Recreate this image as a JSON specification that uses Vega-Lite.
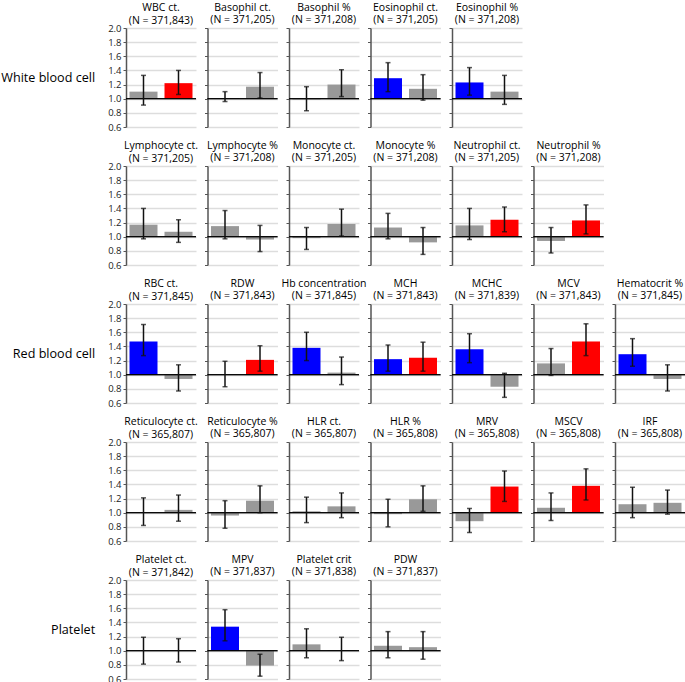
{
"$schema": "https://vega.github.io/schema/vega-lite/v6.json",
"padding": {"left": 0, "top": 2, "right": 0, "bottom": 0},
"columns": 7,
"bounds": "flush",
"spacing": {"row": 39, "column": 11.5},
"concat": [
{"width":70,"height":99,"title":{"text":["WBC ct.","(N = 371,843)"],"offset":-3},"data":{"values":[{"g":"A","v":1.10,"lo":0.91,"hi":1.33,"k":"ns"},{"g":"B","v":1.22,"lo":1.06,"hi":1.40,"k":"second"}]},
 "layer":[
 {"mark":"bar","encoding":{"x":{"field":"g","type":"nominal","axis":null,"scale":{"paddingInner":0.2,"paddingOuter":0.1}},"y":{"field":"v","type":"quantitative","scale":{"domain":[0.6,2]},"axis":{"format":".1f","title":"White blood cell"}},"y2":{"datum":1},"color":{"field":"k","type":"nominal","scale":{"domain":["first","second","ns"],"range":["#0000ff","#ff0000","#999999"]},"legend":null}}},
 {"mark":{"type":"rule","strokeWidth":1,"color":"#000"},"encoding":{"y":{"datum":1}}},
 {"mark":"rule","encoding":{"x":{"field":"g","type":"nominal"},"y":{"field":"lo","type":"quantitative"},"y2":{"field":"hi"}}},
 {"mark":"tick","encoding":{"x":{"field":"g","type":"nominal"},"y":{"field":"lo","type":"quantitative"}}},
 {"mark":"tick","encoding":{"x":{"field":"g","type":"nominal"},"y":{"field":"hi","type":"quantitative"}}}
 ]},
{"width":70,"height":99,"title":{"text":["Basophil ct.","(N = 371,205)"]},"data":{"values":[{"g":"A","v":1.01,"lo":0.96,"hi":1.10,"k":"ns"},{"g":"B","v":1.17,"lo":1.01,"hi":1.37,"k":"ns"}]},
 "layer":[
 {"mark":"bar","encoding":{"x":{"field":"g","type":"nominal","axis":null,"scale":{"paddingInner":0.2,"paddingOuter":0.1}},"y":{"field":"v","type":"quantitative","scale":{"domain":[0.6,2]},"axis":{"labels":false,"title":null}},"y2":{"datum":1},"color":{"field":"k","type":"nominal","scale":{"domain":["first","second","ns"],"range":["#0000ff","#ff0000","#999999"]},"legend":null}}},
 {"mark":{"type":"rule","strokeWidth":1,"color":"#000"},"encoding":{"y":{"datum":1}}},
 {"mark":"rule","encoding":{"x":{"field":"g","type":"nominal"},"y":{"field":"lo","type":"quantitative"},"y2":{"field":"hi"}}},
 {"mark":"tick","encoding":{"x":{"field":"g","type":"nominal"},"y":{"field":"lo","type":"quantitative"}}},
 {"mark":"tick","encoding":{"x":{"field":"g","type":"nominal"},"y":{"field":"hi","type":"quantitative"}}}
 ]},
{"width":70,"height":99,"title":{"text":["Basophil %","(N = 371,208)"]},"data":{"values":[{"g":"A","v":0.99,"lo":0.83,"hi":1.17,"k":"ns"},{"g":"B","v":1.20,"lo":1.03,"hi":1.41,"k":"ns"}]},
 "layer":[
 {"mark":"bar","encoding":{"x":{"field":"g","type":"nominal","axis":null,"scale":{"paddingInner":0.2,"paddingOuter":0.1}},"y":{"field":"v","type":"quantitative","scale":{"domain":[0.6,2]},"axis":{"labels":false,"title":null}},"y2":{"datum":1},"color":{"field":"k","type":"nominal","scale":{"domain":["first","second","ns"],"range":["#0000ff","#ff0000","#999999"]},"legend":null}}},
 {"mark":{"type":"rule","strokeWidth":1,"color":"#000"},"encoding":{"y":{"datum":1}}},
 {"mark":"rule","encoding":{"x":{"field":"g","type":"nominal"},"y":{"field":"lo","type":"quantitative"},"y2":{"field":"hi"}}},
 {"mark":"tick","encoding":{"x":{"field":"g","type":"nominal"},"y":{"field":"lo","type":"quantitative"}}},
 {"mark":"tick","encoding":{"x":{"field":"g","type":"nominal"},"y":{"field":"hi","type":"quantitative"}}}
 ]},
{"width":70,"height":99,"title":{"text":["Eosinophil ct.","(N = 371,205)"]},"data":{"values":[{"g":"A","v":1.29,"lo":1.10,"hi":1.51,"k":"first"},{"g":"B","v":1.14,"lo":0.98,"hi":1.34,"k":"ns"}]},
 "layer":[
 {"mark":"bar","encoding":{"x":{"field":"g","type":"nominal","axis":null,"scale":{"paddingInner":0.2,"paddingOuter":0.1}},"y":{"field":"v","type":"quantitative","scale":{"domain":[0.6,2]},"axis":{"labels":false,"title":null}},"y2":{"datum":1},"color":{"field":"k","type":"nominal","scale":{"domain":["first","second","ns"],"range":["#0000ff","#ff0000","#999999"]},"legend":null}}},
 {"mark":{"type":"rule","strokeWidth":1,"color":"#000"},"encoding":{"y":{"datum":1}}},
 {"mark":"rule","encoding":{"x":{"field":"g","type":"nominal"},"y":{"field":"lo","type":"quantitative"},"y2":{"field":"hi"}}},
 {"mark":"tick","encoding":{"x":{"field":"g","type":"nominal"},"y":{"field":"lo","type":"quantitative"}}},
 {"mark":"tick","encoding":{"x":{"field":"g","type":"nominal"},"y":{"field":"hi","type":"quantitative"}}}
 ]},
{"width":70,"height":99,"title":{"text":["Eosinophil %","(N = 371,208)"]},"data":{"values":[{"g":"A","v":1.23,"lo":1.05,"hi":1.44,"k":"first"},{"g":"B","v":1.10,"lo":0.92,"hi":1.33,"k":"ns"}]},
 "layer":[
 {"mark":"bar","encoding":{"x":{"field":"g","type":"nominal","axis":null,"scale":{"paddingInner":0.2,"paddingOuter":0.1}},"y":{"field":"v","type":"quantitative","scale":{"domain":[0.6,2]},"axis":{"labels":false,"title":null}},"y2":{"datum":1},"color":{"field":"k","type":"nominal","scale":{"domain":["first","second","ns"],"range":["#0000ff","#ff0000","#999999"]},"legend":null}}},
 {"mark":{"type":"rule","strokeWidth":1,"color":"#000"},"encoding":{"y":{"datum":1}}},
 {"mark":"rule","encoding":{"x":{"field":"g","type":"nominal"},"y":{"field":"lo","type":"quantitative"},"y2":{"field":"hi"}}},
 {"mark":"tick","encoding":{"x":{"field":"g","type":"nominal"},"y":{"field":"lo","type":"quantitative"}}},
 {"mark":"tick","encoding":{"x":{"field":"g","type":"nominal"},"y":{"field":"hi","type":"quantitative"}}}
 ]},
{"width":70,"height":99,"data":{"values":[{"k":"blank"}]},"mark":{"type":"point","opacity":0},"encoding":{}},
{"width":70,"height":99,"data":{"values":[{"k":"blank"}]},"mark":{"type":"point","opacity":0},"encoding":{}},

{"width":70,"height":99,"title":{"text":["Lymphocyte ct.","(N = 371,205)"],"offset":-3},"data":{"values":[{"g":"A","v":1.17,"lo":0.97,"hi":1.40,"k":"ns"},{"g":"B","v":1.07,"lo":0.92,"hi":1.24,"k":"ns"}]},
 "layer":[
 {"mark":"bar","encoding":{"x":{"field":"g","type":"nominal","axis":null,"scale":{"paddingInner":0.2,"paddingOuter":0.1}},"y":{"field":"v","type":"quantitative","scale":{"domain":[0.6,2]},"axis":{"format":".1f","title":null}},"y2":{"datum":1},"color":{"field":"k","type":"nominal","scale":{"domain":["first","second","ns"],"range":["#0000ff","#ff0000","#999999"]},"legend":null}}},
 {"mark":{"type":"rule","strokeWidth":1,"color":"#000"},"encoding":{"y":{"datum":1}}},
 {"mark":"rule","encoding":{"x":{"field":"g","type":"nominal"},"y":{"field":"lo","type":"quantitative"},"y2":{"field":"hi"}}},
 {"mark":"tick","encoding":{"x":{"field":"g","type":"nominal"},"y":{"field":"lo","type":"quantitative"}}},
 {"mark":"tick","encoding":{"x":{"field":"g","type":"nominal"},"y":{"field":"hi","type":"quantitative"}}}
 ]},
{"width":70,"height":99,"title":{"text":["Lymphocyte %","(N = 371,208)"]},"data":{"values":[{"g":"A","v":1.15,"lo":0.97,"hi":1.37,"k":"ns"},{"g":"B","v":0.96,"lo":0.79,"hi":1.16,"k":"ns"}]},
 "layer":[
 {"mark":"bar","encoding":{"x":{"field":"g","type":"nominal","axis":null,"scale":{"paddingInner":0.2,"paddingOuter":0.1}},"y":{"field":"v","type":"quantitative","scale":{"domain":[0.6,2]},"axis":{"labels":false,"title":null}},"y2":{"datum":1},"color":{"field":"k","type":"nominal","scale":{"domain":["first","second","ns"],"range":["#0000ff","#ff0000","#999999"]},"legend":null}}},
 {"mark":{"type":"rule","strokeWidth":1,"color":"#000"},"encoding":{"y":{"datum":1}}},
 {"mark":"rule","encoding":{"x":{"field":"g","type":"nominal"},"y":{"field":"lo","type":"quantitative"},"y2":{"field":"hi"}}},
 {"mark":"tick","encoding":{"x":{"field":"g","type":"nominal"},"y":{"field":"lo","type":"quantitative"}}},
 {"mark":"tick","encoding":{"x":{"field":"g","type":"nominal"},"y":{"field":"hi","type":"quantitative"}}}
 ]},
{"width":70,"height":99,"title":{"text":["Monocyte ct.","(N = 371,205)"]},"data":{"values":[{"g":"A","v":0.98,"lo":0.82,"hi":1.13,"k":"ns"},{"g":"B","v":1.18,"lo":1.01,"hi":1.39,"k":"ns"}]},
 "layer":[
 {"mark":"bar","encoding":{"x":{"field":"g","type":"nominal","axis":null,"scale":{"paddingInner":0.2,"paddingOuter":0.1}},"y":{"field":"v","type":"quantitative","scale":{"domain":[0.6,2]},"axis":{"labels":false,"title":null}},"y2":{"datum":1},"color":{"field":"k","type":"nominal","scale":{"domain":["first","second","ns"],"range":["#0000ff","#ff0000","#999999"]},"legend":null}}},
 {"mark":{"type":"rule","strokeWidth":1,"color":"#000"},"encoding":{"y":{"datum":1}}},
 {"mark":"rule","encoding":{"x":{"field":"g","type":"nominal"},"y":{"field":"lo","type":"quantitative"},"y2":{"field":"hi"}}},
 {"mark":"tick","encoding":{"x":{"field":"g","type":"nominal"},"y":{"field":"lo","type":"quantitative"}}},
 {"mark":"tick","encoding":{"x":{"field":"g","type":"nominal"},"y":{"field":"hi","type":"quantitative"}}}
 ]},
{"width":70,"height":99,"title":{"text":["Monocyte %","(N = 371,208)"]},"data":{"values":[{"g":"A","v":1.13,"lo":0.97,"hi":1.33,"k":"ns"},{"g":"B","v":0.92,"lo":0.75,"hi":1.13,"k":"ns"}]},
 "layer":[
 {"mark":"bar","encoding":{"x":{"field":"g","type":"nominal","axis":null,"scale":{"paddingInner":0.2,"paddingOuter":0.1}},"y":{"field":"v","type":"quantitative","scale":{"domain":[0.6,2]},"axis":{"labels":false,"title":null}},"y2":{"datum":1},"color":{"field":"k","type":"nominal","scale":{"domain":["first","second","ns"],"range":["#0000ff","#ff0000","#999999"]},"legend":null}}},
 {"mark":{"type":"rule","strokeWidth":1,"color":"#000"},"encoding":{"y":{"datum":1}}},
 {"mark":"rule","encoding":{"x":{"field":"g","type":"nominal"},"y":{"field":"lo","type":"quantitative"},"y2":{"field":"hi"}}},
 {"mark":"tick","encoding":{"x":{"field":"g","type":"nominal"},"y":{"field":"lo","type":"quantitative"}}},
 {"mark":"tick","encoding":{"x":{"field":"g","type":"nominal"},"y":{"field":"hi","type":"quantitative"}}}
 ]},
{"width":70,"height":99,"title":{"text":["Neutrophil ct.","(N = 371,205)"]},"data":{"values":[{"g":"A","v":1.16,"lo":0.96,"hi":1.40,"k":"ns"},{"g":"B","v":1.24,"lo":1.07,"hi":1.42,"k":"second"}]},
 "layer":[
 {"mark":"bar","encoding":{"x":{"field":"g","type":"nominal","axis":null,"scale":{"paddingInner":0.2,"paddingOuter":0.1}},"y":{"field":"v","type":"quantitative","scale":{"domain":[0.6,2]},"axis":{"labels":false,"title":null}},"y2":{"datum":1},"color":{"field":"k","type":"nominal","scale":{"domain":["first","second","ns"],"range":["#0000ff","#ff0000","#999999"]},"legend":null}}},
 {"mark":{"type":"rule","strokeWidth":1,"color":"#000"},"encoding":{"y":{"datum":1}}},
 {"mark":"rule","encoding":{"x":{"field":"g","type":"nominal"},"y":{"field":"lo","type":"quantitative"},"y2":{"field":"hi"}}},
 {"mark":"tick","encoding":{"x":{"field":"g","type":"nominal"},"y":{"field":"lo","type":"quantitative"}}},
 {"mark":"tick","encoding":{"x":{"field":"g","type":"nominal"},"y":{"field":"hi","type":"quantitative"}}}
 ]},
{"width":70,"height":99,"title":{"text":["Neutrophil %","(N = 371,208)"]},"data":{"values":[{"g":"A","v":0.94,"lo":0.77,"hi":1.13,"k":"ns"},{"g":"B","v":1.23,"lo":1.04,"hi":1.45,"k":"second"}]},
 "layer":[
 {"mark":"bar","encoding":{"x":{"field":"g","type":"nominal","axis":null,"scale":{"paddingInner":0.2,"paddingOuter":0.1}},"y":{"field":"v","type":"quantitative","scale":{"domain":[0.6,2]},"axis":{"labels":false,"title":null}},"y2":{"datum":1},"color":{"field":"k","type":"nominal","scale":{"domain":["first","second","ns"],"range":["#0000ff","#ff0000","#999999"]},"legend":null}}},
 {"mark":{"type":"rule","strokeWidth":1,"color":"#000"},"encoding":{"y":{"datum":1}}},
 {"mark":"rule","encoding":{"x":{"field":"g","type":"nominal"},"y":{"field":"lo","type":"quantitative"},"y2":{"field":"hi"}}},
 {"mark":"tick","encoding":{"x":{"field":"g","type":"nominal"},"y":{"field":"lo","type":"quantitative"}}},
 {"mark":"tick","encoding":{"x":{"field":"g","type":"nominal"},"y":{"field":"hi","type":"quantitative"}}}
 ]},
{"width":70,"height":99,"data":{"values":[{"k":"blank"}]},"mark":{"type":"point","opacity":0},"encoding":{}},

{"width":70,"height":99,"title":{"text":["RBC ct.","(N = 371,845)"],"offset":-3},"data":{"values":[{"g":"A","v":1.47,"lo":1.27,"hi":1.71,"k":"first"},{"g":"B","v":0.94,"lo":0.77,"hi":1.14,"k":"ns"}]},
 "layer":[
 {"mark":"bar","encoding":{"x":{"field":"g","type":"nominal","axis":null,"scale":{"paddingInner":0.2,"paddingOuter":0.1}},"y":{"field":"v","type":"quantitative","scale":{"domain":[0.6,2]},"axis":{"format":".1f","title":"Red blood cell"}},"y2":{"datum":1},"color":{"field":"k","type":"nominal","scale":{"domain":["first","second","ns"],"range":["#0000ff","#ff0000","#999999"]},"legend":null}}},
 {"mark":{"type":"rule","strokeWidth":1,"color":"#000"},"encoding":{"y":{"datum":1}}},
 {"mark":"rule","encoding":{"x":{"field":"g","type":"nominal"},"y":{"field":"lo","type":"quantitative"},"y2":{"field":"hi"}}},
 {"mark":"tick","encoding":{"x":{"field":"g","type":"nominal"},"y":{"field":"lo","type":"quantitative"}}},
 {"mark":"tick","encoding":{"x":{"field":"g","type":"nominal"},"y":{"field":"hi","type":"quantitative"}}}
 ]},
{"width":70,"height":99,"title":{"text":["RDW","(N = 371,843)"]},"data":{"values":[{"g":"A","v":1.00,"lo":0.83,"hi":1.19,"k":"ns"},{"g":"B","v":1.21,"lo":1.05,"hi":1.41,"k":"second"}]},
 "layer":[
 {"mark":"bar","encoding":{"x":{"field":"g","type":"nominal","axis":null,"scale":{"paddingInner":0.2,"paddingOuter":0.1}},"y":{"field":"v","type":"quantitative","scale":{"domain":[0.6,2]},"axis":{"labels":false,"title":null}},"y2":{"datum":1},"color":{"field":"k","type":"nominal","scale":{"domain":["first","second","ns"],"range":["#0000ff","#ff0000","#999999"]},"legend":null}}},
 {"mark":{"type":"rule","strokeWidth":1,"color":"#000"},"encoding":{"y":{"datum":1}}},
 {"mark":"rule","encoding":{"x":{"field":"g","type":"nominal"},"y":{"field":"lo","type":"quantitative"},"y2":{"field":"hi"}}},
 {"mark":"tick","encoding":{"x":{"field":"g","type":"nominal"},"y":{"field":"lo","type":"quantitative"}}},
 {"mark":"tick","encoding":{"x":{"field":"g","type":"nominal"},"y":{"field":"hi","type":"quantitative"}}}
 ]},
{"width":70,"height":99,"title":{"text":["Hb concentration","(N = 371,845)"]},"data":{"values":[{"g":"A","v":1.38,"lo":1.20,"hi":1.60,"k":"first"},{"g":"B","v":1.03,"lo":0.86,"hi":1.25,"k":"ns"}]},
 "layer":[
 {"mark":"bar","encoding":{"x":{"field":"g","type":"nominal","axis":null,"scale":{"paddingInner":0.2,"paddingOuter":0.1}},"y":{"field":"v","type":"quantitative","scale":{"domain":[0.6,2]},"axis":{"labels":false,"title":null}},"y2":{"datum":1},"color":{"field":"k","type":"nominal","scale":{"domain":["first","second","ns"],"range":["#0000ff","#ff0000","#999999"]},"legend":null}}},
 {"mark":{"type":"rule","strokeWidth":1,"color":"#000"},"encoding":{"y":{"datum":1}}},
 {"mark":"rule","encoding":{"x":{"field":"g","type":"nominal"},"y":{"field":"lo","type":"quantitative"},"y2":{"field":"hi"}}},
 {"mark":"tick","encoding":{"x":{"field":"g","type":"nominal"},"y":{"field":"lo","type":"quantitative"}}},
 {"mark":"tick","encoding":{"x":{"field":"g","type":"nominal"},"y":{"field":"hi","type":"quantitative"}}}
 ]},
{"width":70,"height":99,"title":{"text":["MCH","(N = 371,843)"]},"data":{"values":[{"g":"A","v":1.22,"lo":1.05,"hi":1.42,"k":"first"},{"g":"B","v":1.24,"lo":1.05,"hi":1.46,"k":"second"}]},
 "layer":[
 {"mark":"bar","encoding":{"x":{"field":"g","type":"nominal","axis":null,"scale":{"paddingInner":0.2,"paddingOuter":0.1}},"y":{"field":"v","type":"quantitative","scale":{"domain":[0.6,2]},"axis":{"labels":false,"title":null}},"y2":{"datum":1},"color":{"field":"k","type":"nominal","scale":{"domain":["first","second","ns"],"range":["#0000ff","#ff0000","#999999"]},"legend":null}}},
 {"mark":{"type":"rule","strokeWidth":1,"color":"#000"},"encoding":{"y":{"datum":1}}},
 {"mark":"rule","encoding":{"x":{"field":"g","type":"nominal"},"y":{"field":"lo","type":"quantitative"},"y2":{"field":"hi"}}},
 {"mark":"tick","encoding":{"x":{"field":"g","type":"nominal"},"y":{"field":"lo","type":"quantitative"}}},
 {"mark":"tick","encoding":{"x":{"field":"g","type":"nominal"},"y":{"field":"hi","type":"quantitative"}}}
 ]},
{"width":70,"height":99,"title":{"text":["MCHC","(N = 371,839)"]},"data":{"values":[{"g":"A","v":1.36,"lo":1.17,"hi":1.58,"k":"first"},{"g":"B","v":0.83,"lo":0.68,"hi":1.02,"k":"ns"}]},
 "layer":[
 {"mark":"bar","encoding":{"x":{"field":"g","type":"nominal","axis":null,"scale":{"paddingInner":0.2,"paddingOuter":0.1}},"y":{"field":"v","type":"quantitative","scale":{"domain":[0.6,2]},"axis":{"labels":false,"title":null}},"y2":{"datum":1},"color":{"field":"k","type":"nominal","scale":{"domain":["first","second","ns"],"range":["#0000ff","#ff0000","#999999"]},"legend":null}}},
 {"mark":{"type":"rule","strokeWidth":1,"color":"#000"},"encoding":{"y":{"datum":1}}},
 {"mark":"rule","encoding":{"x":{"field":"g","type":"nominal"},"y":{"field":"lo","type":"quantitative"},"y2":{"field":"hi"}}},
 {"mark":"tick","encoding":{"x":{"field":"g","type":"nominal"},"y":{"field":"lo","type":"quantitative"}}},
 {"mark":"tick","encoding":{"x":{"field":"g","type":"nominal"},"y":{"field":"hi","type":"quantitative"}}}
 ]},
{"width":70,"height":99,"title":{"text":["MCV","(N = 371,843)"]},"data":{"values":[{"g":"A","v":1.16,"lo":0.99,"hi":1.37,"k":"ns"},{"g":"B","v":1.47,"lo":1.27,"hi":1.72,"k":"second"}]},
 "layer":[
 {"mark":"bar","encoding":{"x":{"field":"g","type":"nominal","axis":null,"scale":{"paddingInner":0.2,"paddingOuter":0.1}},"y":{"field":"v","type":"quantitative","scale":{"domain":[0.6,2]},"axis":{"labels":false,"title":null}},"y2":{"datum":1},"color":{"field":"k","type":"nominal","scale":{"domain":["first","second","ns"],"range":["#0000ff","#ff0000","#999999"]},"legend":null}}},
 {"mark":{"type":"rule","strokeWidth":1,"color":"#000"},"encoding":{"y":{"datum":1}}},
 {"mark":"rule","encoding":{"x":{"field":"g","type":"nominal"},"y":{"field":"lo","type":"quantitative"},"y2":{"field":"hi"}}},
 {"mark":"tick","encoding":{"x":{"field":"g","type":"nominal"},"y":{"field":"lo","type":"quantitative"}}},
 {"mark":"tick","encoding":{"x":{"field":"g","type":"nominal"},"y":{"field":"hi","type":"quantitative"}}}
 ]},
{"width":70,"height":99,"title":{"text":["Hematocrit %","(N = 371,845)"]},"data":{"values":[{"g":"A","v":1.29,"lo":1.12,"hi":1.51,"k":"first"},{"g":"B","v":0.94,"lo":0.77,"hi":1.14,"k":"ns"}]},
 "layer":[
 {"mark":"bar","encoding":{"x":{"field":"g","type":"nominal","axis":null,"scale":{"paddingInner":0.2,"paddingOuter":0.1}},"y":{"field":"v","type":"quantitative","scale":{"domain":[0.6,2]},"axis":{"labels":false,"title":null}},"y2":{"datum":1},"color":{"field":"k","type":"nominal","scale":{"domain":["first","second","ns"],"range":["#0000ff","#ff0000","#999999"]},"legend":null}}},
 {"mark":{"type":"rule","strokeWidth":1,"color":"#000"},"encoding":{"y":{"datum":1}}},
 {"mark":"rule","encoding":{"x":{"field":"g","type":"nominal"},"y":{"field":"lo","type":"quantitative"},"y2":{"field":"hi"}}},
 {"mark":"tick","encoding":{"x":{"field":"g","type":"nominal"},"y":{"field":"lo","type":"quantitative"}}},
 {"mark":"tick","encoding":{"x":{"field":"g","type":"nominal"},"y":{"field":"hi","type":"quantitative"}}}
 ]},

{"width":70,"height":99,"title":{"text":["Reticulocyte ct.","(N = 365,807)"],"offset":-3},"data":{"values":[{"g":"A","v":1.00,"lo":0.82,"hi":1.21,"k":"ns"},{"g":"B","v":1.04,"lo":0.88,"hi":1.25,"k":"ns"}]},
 "layer":[
 {"mark":"bar","encoding":{"x":{"field":"g","type":"nominal","axis":null,"scale":{"paddingInner":0.2,"paddingOuter":0.1}},"y":{"field":"v","type":"quantitative","scale":{"domain":[0.6,2]},"axis":{"format":".1f","title":null}},"y2":{"datum":1},"color":{"field":"k","type":"nominal","scale":{"domain":["first","second","ns"],"range":["#0000ff","#ff0000","#999999"]},"legend":null}}},
 {"mark":{"type":"rule","strokeWidth":1,"color":"#000"},"encoding":{"y":{"datum":1}}},
 {"mark":"rule","encoding":{"x":{"field":"g","type":"nominal"},"y":{"field":"lo","type":"quantitative"},"y2":{"field":"hi"}}},
 {"mark":"tick","encoding":{"x":{"field":"g","type":"nominal"},"y":{"field":"lo","type":"quantitative"}}},
 {"mark":"tick","encoding":{"x":{"field":"g","type":"nominal"},"y":{"field":"hi","type":"quantitative"}}}
 ]},
{"width":70,"height":99,"title":{"text":["Reticulocyte %","(N = 365,807)"]},"data":{"values":[{"g":"A","v":0.96,"lo":0.78,"hi":1.17,"k":"ns"},{"g":"B","v":1.17,"lo":1.00,"hi":1.38,"k":"ns"}]},
 "layer":[
 {"mark":"bar","encoding":{"x":{"field":"g","type":"nominal","axis":null,"scale":{"paddingInner":0.2,"paddingOuter":0.1}},"y":{"field":"v","type":"quantitative","scale":{"domain":[0.6,2]},"axis":{"labels":false,"title":null}},"y2":{"datum":1},"color":{"field":"k","type":"nominal","scale":{"domain":["first","second","ns"],"range":["#0000ff","#ff0000","#999999"]},"legend":null}}},
 {"mark":{"type":"rule","strokeWidth":1,"color":"#000"},"encoding":{"y":{"datum":1}}},
 {"mark":"rule","encoding":{"x":{"field":"g","type":"nominal"},"y":{"field":"lo","type":"quantitative"},"y2":{"field":"hi"}}},
 {"mark":"tick","encoding":{"x":{"field":"g","type":"nominal"},"y":{"field":"lo","type":"quantitative"}}},
 {"mark":"tick","encoding":{"x":{"field":"g","type":"nominal"},"y":{"field":"hi","type":"quantitative"}}}
 ]},
{"width":70,"height":99,"title":{"text":["HLR ct.","(N = 365,807)"]},"data":{"values":[{"g":"A","v":1.02,"lo":0.86,"hi":1.22,"k":"ns"},{"g":"B","v":1.09,"lo":0.93,"hi":1.28,"k":"ns"}]},
 "layer":[
 {"mark":"bar","encoding":{"x":{"field":"g","type":"nominal","axis":null,"scale":{"paddingInner":0.2,"paddingOuter":0.1}},"y":{"field":"v","type":"quantitative","scale":{"domain":[0.6,2]},"axis":{"labels":false,"title":null}},"y2":{"datum":1},"color":{"field":"k","type":"nominal","scale":{"domain":["first","second","ns"],"range":["#0000ff","#ff0000","#999999"]},"legend":null}}},
 {"mark":{"type":"rule","strokeWidth":1,"color":"#000"},"encoding":{"y":{"datum":1}}},
 {"mark":"rule","encoding":{"x":{"field":"g","type":"nominal"},"y":{"field":"lo","type":"quantitative"},"y2":{"field":"hi"}}},
 {"mark":"tick","encoding":{"x":{"field":"g","type":"nominal"},"y":{"field":"lo","type":"quantitative"}}},
 {"mark":"tick","encoding":{"x":{"field":"g","type":"nominal"},"y":{"field":"hi","type":"quantitative"}}}
 ]},
{"width":70,"height":99,"title":{"text":["HLR %","(N = 365,808)"]},"data":{"values":[{"g":"A","v":0.98,"lo":0.80,"hi":1.19,"k":"ns"},{"g":"B","v":1.19,"lo":1.02,"hi":1.38,"k":"ns"}]},
 "layer":[
 {"mark":"bar","encoding":{"x":{"field":"g","type":"nominal","axis":null,"scale":{"paddingInner":0.2,"paddingOuter":0.1}},"y":{"field":"v","type":"quantitative","scale":{"domain":[0.6,2]},"axis":{"labels":false,"title":null}},"y2":{"datum":1},"color":{"field":"k","type":"nominal","scale":{"domain":["first","second","ns"],"range":["#0000ff","#ff0000","#999999"]},"legend":null}}},
 {"mark":{"type":"rule","strokeWidth":1,"color":"#000"},"encoding":{"y":{"datum":1}}},
 {"mark":"rule","encoding":{"x":{"field":"g","type":"nominal"},"y":{"field":"lo","type":"quantitative"},"y2":{"field":"hi"}}},
 {"mark":"tick","encoding":{"x":{"field":"g","type":"nominal"},"y":{"field":"lo","type":"quantitative"}}},
 {"mark":"tick","encoding":{"x":{"field":"g","type":"nominal"},"y":{"field":"hi","type":"quantitative"}}}
 ]},
{"width":70,"height":99,"title":{"text":["MRV","(N = 365,808)"]},"data":{"values":[{"g":"A","v":0.88,"lo":0.72,"hi":1.06,"k":"ns"},{"g":"B","v":1.37,"lo":1.16,"hi":1.59,"k":"second"}]},
 "layer":[
 {"mark":"bar","encoding":{"x":{"field":"g","type":"nominal","axis":null,"scale":{"paddingInner":0.2,"paddingOuter":0.1}},"y":{"field":"v","type":"quantitative","scale":{"domain":[0.6,2]},"axis":{"labels":false,"title":null}},"y2":{"datum":1},"color":{"field":"k","type":"nominal","scale":{"domain":["first","second","ns"],"range":["#0000ff","#ff0000","#999999"]},"legend":null}}},
 {"mark":{"type":"rule","strokeWidth":1,"color":"#000"},"encoding":{"y":{"datum":1}}},
 {"mark":"rule","encoding":{"x":{"field":"g","type":"nominal"},"y":{"field":"lo","type":"quantitative"},"y2":{"field":"hi"}}},
 {"mark":"tick","encoding":{"x":{"field":"g","type":"nominal"},"y":{"field":"lo","type":"quantitative"}}},
 {"mark":"tick","encoding":{"x":{"field":"g","type":"nominal"},"y":{"field":"hi","type":"quantitative"}}}
 ]},
{"width":70,"height":99,"title":{"text":["MSCV","(N = 365,808)"]},"data":{"values":[{"g":"A","v":1.07,"lo":0.89,"hi":1.28,"k":"ns"},{"g":"B","v":1.38,"lo":1.18,"hi":1.62,"k":"second"}]},
 "layer":[
 {"mark":"bar","encoding":{"x":{"field":"g","type":"nominal","axis":null,"scale":{"paddingInner":0.2,"paddingOuter":0.1}},"y":{"field":"v","type":"quantitative","scale":{"domain":[0.6,2]},"axis":{"labels":false,"title":null}},"y2":{"datum":1},"color":{"field":"k","type":"nominal","scale":{"domain":["first","second","ns"],"range":["#0000ff","#ff0000","#999999"]},"legend":null}}},
 {"mark":{"type":"rule","strokeWidth":1,"color":"#000"},"encoding":{"y":{"datum":1}}},
 {"mark":"rule","encoding":{"x":{"field":"g","type":"nominal"},"y":{"field":"lo","type":"quantitative"},"y2":{"field":"hi"}}},
 {"mark":"tick","encoding":{"x":{"field":"g","type":"nominal"},"y":{"field":"lo","type":"quantitative"}}},
 {"mark":"tick","encoding":{"x":{"field":"g","type":"nominal"},"y":{"field":"hi","type":"quantitative"}}}
 ]},
{"width":70,"height":99,"title":{"text":["IRF","(N = 365,808)"]},"data":{"values":[{"g":"A","v":1.12,"lo":0.93,"hi":1.36,"k":"ns"},{"g":"B","v":1.14,"lo":0.98,"hi":1.32,"k":"ns"}]},
 "layer":[
 {"mark":"bar","encoding":{"x":{"field":"g","type":"nominal","axis":null,"scale":{"paddingInner":0.2,"paddingOuter":0.1}},"y":{"field":"v","type":"quantitative","scale":{"domain":[0.6,2]},"axis":{"labels":false,"title":null}},"y2":{"datum":1},"color":{"field":"k","type":"nominal","scale":{"domain":["first","second","ns"],"range":["#0000ff","#ff0000","#999999"]},"legend":null}}},
 {"mark":{"type":"rule","strokeWidth":1,"color":"#000"},"encoding":{"y":{"datum":1}}},
 {"mark":"rule","encoding":{"x":{"field":"g","type":"nominal"},"y":{"field":"lo","type":"quantitative"},"y2":{"field":"hi"}}},
 {"mark":"tick","encoding":{"x":{"field":"g","type":"nominal"},"y":{"field":"lo","type":"quantitative"}}},
 {"mark":"tick","encoding":{"x":{"field":"g","type":"nominal"},"y":{"field":"hi","type":"quantitative"}}}
 ]},

{"width":70,"height":99,"title":{"text":["Platelet ct.","(N = 371,842)"],"offset":-3},"data":{"values":[{"g":"A","v":1.00,"lo":0.81,"hi":1.19,"k":"ns"},{"g":"B","v":1.00,"lo":0.84,"hi":1.17,"k":"ns"}]},
 "layer":[
 {"mark":"bar","encoding":{"x":{"field":"g","type":"nominal","axis":null,"scale":{"paddingInner":0.2,"paddingOuter":0.1}},"y":{"field":"v","type":"quantitative","scale":{"domain":[0.6,2]},"axis":{"format":".1f","title":"Platelet"}},"y2":{"datum":1},"color":{"field":"k","type":"nominal","scale":{"domain":["first","second","ns"],"range":["#0000ff","#ff0000","#999999"]},"legend":null}}},
 {"mark":{"type":"rule","strokeWidth":1,"color":"#000"},"encoding":{"y":{"datum":1}}},
 {"mark":"rule","encoding":{"x":{"field":"g","type":"nominal"},"y":{"field":"lo","type":"quantitative"},"y2":{"field":"hi"}}},
 {"mark":"tick","encoding":{"x":{"field":"g","type":"nominal"},"y":{"field":"lo","type":"quantitative"}}},
 {"mark":"tick","encoding":{"x":{"field":"g","type":"nominal"},"y":{"field":"hi","type":"quantitative"}}}
 ]},
{"width":70,"height":99,"title":{"text":["MPV","(N = 371,837)"]},"data":{"values":[{"g":"A","v":1.34,"lo":1.14,"hi":1.58,"k":"first"},{"g":"B","v":0.79,"lo":0.64,"hi":0.95,"k":"ns"}]},
 "layer":[
 {"mark":"bar","encoding":{"x":{"field":"g","type":"nominal","axis":null,"scale":{"paddingInner":0.2,"paddingOuter":0.1}},"y":{"field":"v","type":"quantitative","scale":{"domain":[0.6,2]},"axis":{"labels":false,"title":null}},"y2":{"datum":1},"color":{"field":"k","type":"nominal","scale":{"domain":["first","second","ns"],"range":["#0000ff","#ff0000","#999999"]},"legend":null}}},
 {"mark":{"type":"rule","strokeWidth":1,"color":"#000"},"encoding":{"y":{"datum":1}}},
 {"mark":"rule","encoding":{"x":{"field":"g","type":"nominal"},"y":{"field":"lo","type":"quantitative"},"y2":{"field":"hi"}}},
 {"mark":"tick","encoding":{"x":{"field":"g","type":"nominal"},"y":{"field":"lo","type":"quantitative"}}},
 {"mark":"tick","encoding":{"x":{"field":"g","type":"nominal"},"y":{"field":"hi","type":"quantitative"}}}
 ]},
{"width":70,"height":99,"title":{"text":["Platelet crit","(N = 371,838)"]},"data":{"values":[{"g":"A","v":1.09,"lo":0.90,"hi":1.31,"k":"ns"},{"g":"B","v":1.01,"lo":0.86,"hi":1.19,"k":"ns"}]},
 "layer":[
 {"mark":"bar","encoding":{"x":{"field":"g","type":"nominal","axis":null,"scale":{"paddingInner":0.2,"paddingOuter":0.1}},"y":{"field":"v","type":"quantitative","scale":{"domain":[0.6,2]},"axis":{"labels":false,"title":null}},"y2":{"datum":1},"color":{"field":"k","type":"nominal","scale":{"domain":["first","second","ns"],"range":["#0000ff","#ff0000","#999999"]},"legend":null}}},
 {"mark":{"type":"rule","strokeWidth":1,"color":"#000"},"encoding":{"y":{"datum":1}}},
 {"mark":"rule","encoding":{"x":{"field":"g","type":"nominal"},"y":{"field":"lo","type":"quantitative"},"y2":{"field":"hi"}}},
 {"mark":"tick","encoding":{"x":{"field":"g","type":"nominal"},"y":{"field":"lo","type":"quantitative"}}},
 {"mark":"tick","encoding":{"x":{"field":"g","type":"nominal"},"y":{"field":"hi","type":"quantitative"}}}
 ]},
{"width":70,"height":99,"title":{"text":["PDW","(N = 371,837)"]},"data":{"values":[{"g":"A","v":1.07,"lo":0.90,"hi":1.27,"k":"ns"},{"g":"B","v":1.05,"lo":0.88,"hi":1.27,"k":"ns"}]},
 "layer":[
 {"mark":"bar","encoding":{"x":{"field":"g","type":"nominal","axis":null,"scale":{"paddingInner":0.2,"paddingOuter":0.1}},"y":{"field":"v","type":"quantitative","scale":{"domain":[0.6,2]},"axis":{"labels":false,"title":null}},"y2":{"datum":1},"color":{"field":"k","type":"nominal","scale":{"domain":["first","second","ns"],"range":["#0000ff","#ff0000","#999999"]},"legend":null}}},
 {"mark":{"type":"rule","strokeWidth":1,"color":"#000"},"encoding":{"y":{"datum":1}}},
 {"mark":"rule","encoding":{"x":{"field":"g","type":"nominal"},"y":{"field":"lo","type":"quantitative"},"y2":{"field":"hi"}}},
 {"mark":"tick","encoding":{"x":{"field":"g","type":"nominal"},"y":{"field":"lo","type":"quantitative"}}},
 {"mark":"tick","encoding":{"x":{"field":"g","type":"nominal"},"y":{"field":"hi","type":"quantitative"}}}
 ]}
],
"config": {
 "font": "Open Sans",
 "view": {"stroke": null},
 "title": {"fontSize": 10.5, "fontWeight": "normal", "color": "#000", "lineHeight": 12.5, "offset": 2, "anchor": "middle", "frame": "group"},
 "axisY": {"grid": true, "gridColor": "#dddddd", "gridWidth": 1.5, "domainColor": "#555555", "domainWidth": 1.5, "tickColor": "#555555", "tickSize": 3, "tickWidth": 1, "tickCount": 7, "labelFontSize": 9.5, "labelColor": "#222222", "labelPadding": 2, "titleFontSize": 12.6, "titleFontWeight": "normal", "titleColor": "#000", "titleAngle": 0, "titleAlign": "right", "titleBaseline": "middle", "titlePadding": 13},
 "tick": {"size": 5, "thickness": 1.5, "color": "#111111"},
 "rule": {"color": "#111111", "strokeWidth": 1.5}
}
}
